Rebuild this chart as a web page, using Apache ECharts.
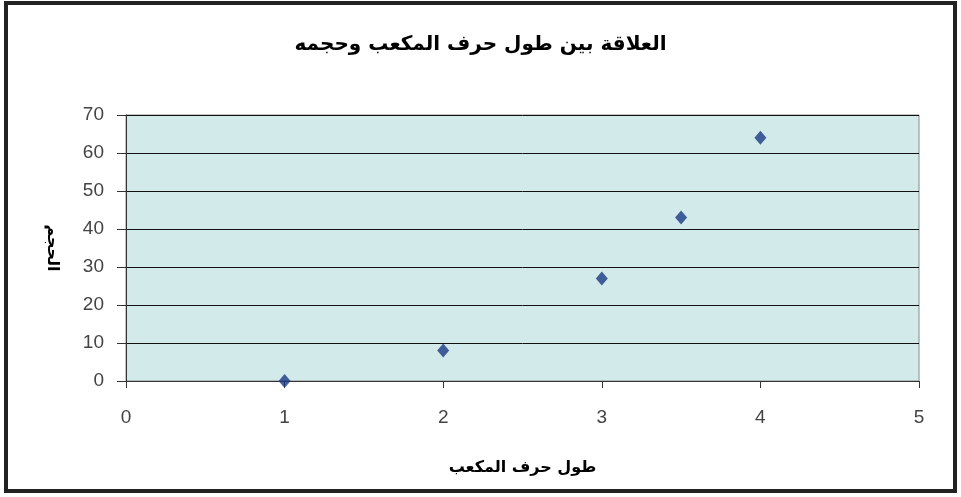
<!DOCTYPE html>
<html lang="ar">
  <head>
    <meta charset="UTF-8" />
    <title>العلاقة بين طول حرف المكعب وحجمه</title>
    <script src="https://cdn.jsdelivr.net/npm/echarts@6.0.0/dist/echarts.min.js"></script>
    <style>
      body { margin: 0; background: #fff; }
    </style>
  </head>
  <body>
    <div id="main" style="width: 961px; height: 497px"></div>
  </body>
  <script>
    // طول الحرف والحجم
    const edge = [1, 2, 3, 3.5, 4];
    const volume = [0, 8, 27, 43, 64];

    const titleText = "العلاقة بين طول حرف المكعب وحجمه";
    const xName = "طول حرف المكعب";
    const yName = "الحجم";

    var myChart = echarts.init(document.getElementById("main"));

    var option = {
      animation: false,
      title: {
        text: titleText,
        left: 'center',
        top: 30,
        textStyle: {
          fontFamily: "DejaVu Sans",
          fontSize: 20,
          fontWeight: "bold",
          color: "#000",
        },
      },
      graphic: [
        {
          type: "rect",
          shape: { x: 6, y: 3, width: 949, height: 488 },
          style: { fill: "none", stroke: "#222", lineWidth: 4 },
          silent: true,
        },
      ],
      grid: {
        left: 126,
        right: 42,
        top: 115,
        bottom: 116,
        show: true,
        backgroundColor: "#d3eaea",
        borderColor: "#888",
        borderWidth: 1,
      },
      xAxis: {
        type: "value",
        min: 0,
        max: 5,
        interval: 1,
        name: xName,
        nameLocation: "middle",
        nameGap: 79,
        nameTextStyle: {
          fontFamily: "DejaVu Sans",
          fontSize: 16,
          fontWeight: "bold",
          color: "#000",
        },
        axisLine: { show: true, lineStyle: { color: "#333", width: 1 } },
        axisTick: { show: true, length: 7, lineStyle: { color: "#333" } },
        axisLabel: {
          margin: 27,
          fontFamily: "Liberation Sans Narrow, Liberation Sans",
          fontSize: 19,
          color: "#444",
        },
        splitLine: { show: false },
      },
      yAxis: {
        type: "value",
        min: 0,
        max: 70,
        interval: 10,
        name: yName,
        nameLocation: "middle",
        nameRotate: -90,
        nameGap: 66,
        nameTextStyle: {
          fontFamily: "DejaVu Sans",
          fontSize: 16,
          fontWeight: "bold",
          color: "#000",
        },
        axisLine: { show: true, lineStyle: { color: "#333", width: 1 } },
        axisTick: { show: true, length: 9, lineStyle: { color: "#333" } },
        axisLabel: {
          margin: 22,
          fontFamily: "Liberation Sans Narrow, Liberation Sans",
          fontSize: 19,
          color: "#444",
        },
        splitLine: { show: true, lineStyle: { color: "#111", width: 1 } },
      },
      series: [
        {
          type: "scatter",
          data: edge.map((x, i) => [x, volume[i]]),
          symbol: "diamond",
          symbolSize: [12, 14],
          itemStyle: { color: "#1a3a84" },
        },
      ],
    };

    myChart.setOption(option);
  </script>
</html>
